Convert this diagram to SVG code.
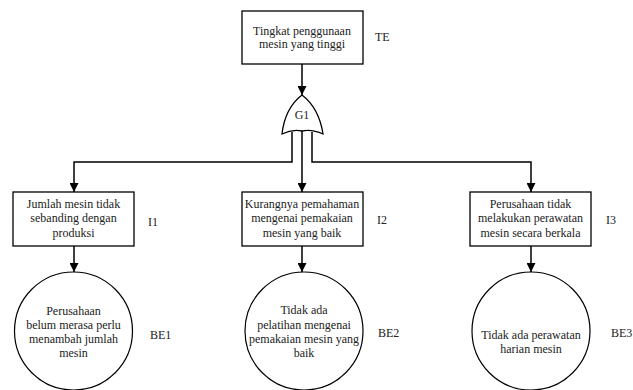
<svg xmlns="http://www.w3.org/2000/svg" width="633" height="390" viewBox="0 0 633 390">
<defs>
<marker id="arr" viewBox="0 0 10 10" refX="10" refY="5" markerWidth="9" markerHeight="9" markerUnits="userSpaceOnUse" orient="auto">
<path d="M0,0 L10,5 L0,10 Z" fill="#000"/>
</marker>
<style>
.box{fill:#fff;stroke:#000;stroke-width:1.3}
text{font-family:'Liberation Serif','Times New Roman',serif;font-size:12px;fill:#222}
.t{text-anchor:middle}
.c{fill:none;stroke:#000;stroke-width:1.5}
</style>
</defs>
<rect width="633" height="390" fill="#fff"/>
<g id="connectors">
<path class="c" d="M302,64 V95" marker-end="url(#arr)"/>
<path class="c" d="M292,132 V162 H74 V192" marker-end="url(#arr)"/>
<path class="c" d="M302,131 V192" marker-end="url(#arr)"/>
<path class="c" d="M312,132 V162 H531 V192" marker-end="url(#arr)"/>
<path class="c" d="M74,246 V272" marker-end="url(#arr)"/>
<path class="c" d="M302,246 V272" marker-end="url(#arr)"/>
<path class="c" d="M531,246 V272" marker-end="url(#arr)"/>
</g>
<g id="TE">
<rect class="box" x="242" y="11" width="121" height="53"/>
<text class="t" x="302" y="35">Tingkat penggunaan</text>
<text class="t" x="302" y="48">mesin yang tinggi</text>
<text x="375" y="41">TE</text>
</g>
<g id="G1">
<path d="M302,95 Q319,108 323,134 Q312,129 302,131 Q292,129 282,134 Q285,108 302,95 Z" fill="#fff" stroke="#000" stroke-width="1.3"/>
<text class="t" x="302" y="119">G1</text>
</g>
<g id="I1">
<rect class="box" x="13" y="192" width="121" height="54"/>
<text class="t" x="73.5" y="208">Jumlah mesin tidak</text>
<text class="t" x="73.5" y="222">sebanding dengan</text>
<text class="t" x="73.5" y="237">produksi</text>
<text x="148" y="226">I1</text>
</g>
<g id="I2">
<rect class="box" x="242" y="192" width="121" height="54"/>
<text class="t" x="302" y="208">Kurangnya pemahaman</text>
<text class="t" x="302" y="222">mengenai pemakaian</text>
<text class="t" x="302" y="237">mesin yang baik</text>
<text x="377" y="224">I2</text>
</g>
<g id="I3">
<rect class="box" x="470" y="192" width="121" height="54"/>
<text class="t" x="530.5" y="208">Perusahaan tidak</text>
<text class="t" x="530.5" y="222">melakukan perawatan</text>
<text class="t" x="530.5" y="237">mesin secara berkala</text>
<text x="606" y="224">I3</text>
</g>
<g id="BE1">
<circle cx="73.5" cy="331" r="59" fill="#fff" stroke="#000" stroke-width="1.2"/>
<text class="t" x="73.5" y="315">Perusahaan</text>
<text class="t" x="73.5" y="329">belum merasa perlu</text>
<text class="t" x="73.5" y="343">menambah jumlah</text>
<text class="t" x="73.5" y="357">mesin</text>
<text x="150" y="339">BE1</text>
</g>
<g id="BE2">
<circle cx="304" cy="331" r="59" fill="#fff" stroke="#000" stroke-width="1.2"/>
<text class="t" x="304" y="314">Tidak ada</text>
<text class="t" x="304" y="329">pelatihan mengenai</text>
<text class="t" x="304" y="343">pemakaian mesin yang</text>
<text class="t" x="304" y="357">baik</text>
<text x="378" y="337">BE2</text>
</g>
<g id="BE3">
<circle cx="531" cy="331" r="59" fill="#fff" stroke="#000" stroke-width="1.2"/>
<text class="t" x="531" y="339">Tidak ada perawatan</text>
<text class="t" x="531" y="353">harian mesin</text>
<text x="611" y="337">BE3</text>
</g>
</svg>
